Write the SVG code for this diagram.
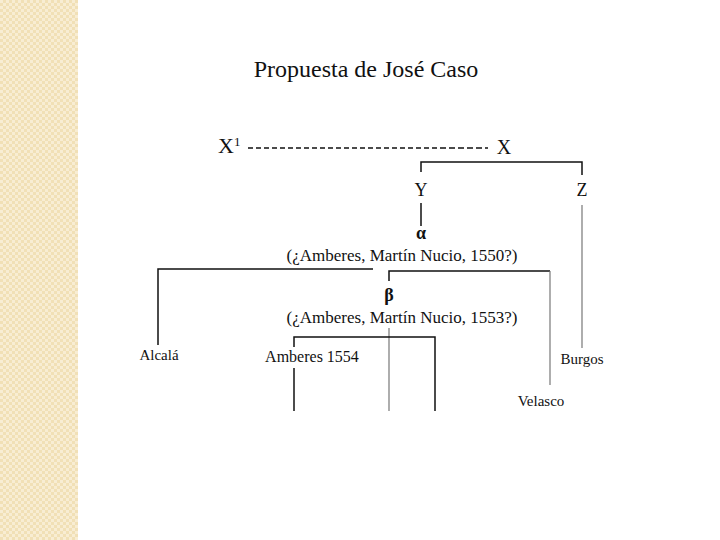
<svg xmlns="http://www.w3.org/2000/svg" width="720" height="540" viewBox="0 0 720 540">
<style>
.t{font-family:"Liberation Serif","Times New Roman",serif;fill:#111}
.ln{stroke:#111;stroke-width:1.5;fill:none}
.gl{stroke:#777;stroke-width:1.2;fill:none}
</style>
<defs>
<pattern id="chk" width="6" height="6" patternUnits="userSpaceOnUse">
<rect width="6" height="6" fill="#f1e0b6"/>
<rect width="3" height="3" fill="#f8edd3"/>
<rect x="3" y="3" width="3" height="3" fill="#f8edd3"/>
</pattern>
</defs>
<rect width="720" height="540" fill="#fff"/>
<rect x="0" y="0" width="78" height="540" fill="url(#chk)"/>
<text class="t" x="366" y="77" font-size="24" text-anchor="middle">Propuesta de José Caso</text>
<g id="connectors">
<line class="ln" x1="248" y1="148" x2="440" y2="148" stroke-dasharray="5,3" stroke-width="1"/>
<line class="ln" x1="440" y1="148" x2="488" y2="148" stroke-dasharray="6,3"/>
<polyline class="ln" points="421,172 421,162 582,162 582,175"/>
<line class="ln" x1="421" y1="203" x2="421" y2="226"/>
<line class="gl" x1="582" y1="205" x2="582" y2="348"/>
<polyline class="ln" points="158,345 158,269 373,269"/>
<polyline class="ln" points="389,281 389,271 550,271"/>
<line class="gl" x1="550" y1="271" x2="550" y2="385"/>
<line class="gl" x1="389" y1="328" x2="389" y2="411"/>
<polyline class="ln" points="294,347 294,337 435,337 435,411"/>
<line class="ln" x1="294" y1="368" x2="294" y2="411"/>
</g>
<g id="X1"><text class="t" x="218" y="153" font-size="22">X</text><text class="t" x="234" y="146" font-size="13">1</text></g>
<g id="X"><text class="t" x="504" y="154" font-size="20" text-anchor="middle">X</text></g>
<g id="Y"><text class="t" x="421" y="196" font-size="18" text-anchor="middle">Y</text></g>
<g id="Z"><text class="t" x="582" y="196" font-size="18" text-anchor="middle">Z</text></g>
<g id="alpha"><text class="t" x="421" y="239" font-size="18" text-anchor="middle" font-weight="bold">α</text>
<text class="t" x="402" y="261" font-size="17" text-anchor="middle">(¿Amberes, Martín Nucio, 1550?)</text></g>
<g id="beta"><text class="t" x="389" y="301" font-size="18" text-anchor="middle" font-weight="bold">β</text>
<text class="t" x="402" y="323" font-size="17" text-anchor="middle">(¿Amberes, Martín Nucio, 1553?)</text></g>
<g id="alcala"><text class="t" x="159" y="360" font-size="15" text-anchor="middle">Alcalá</text></g>
<g id="amberes1554"><text class="t" x="312" y="362" font-size="16" text-anchor="middle">Amberes 1554</text></g>
<g id="burgos"><text class="t" x="582" y="364" font-size="15" text-anchor="middle">Burgos</text></g>
<g id="velasco"><text class="t" x="541" y="406" font-size="15" text-anchor="middle">Velasco</text></g>
</svg>
